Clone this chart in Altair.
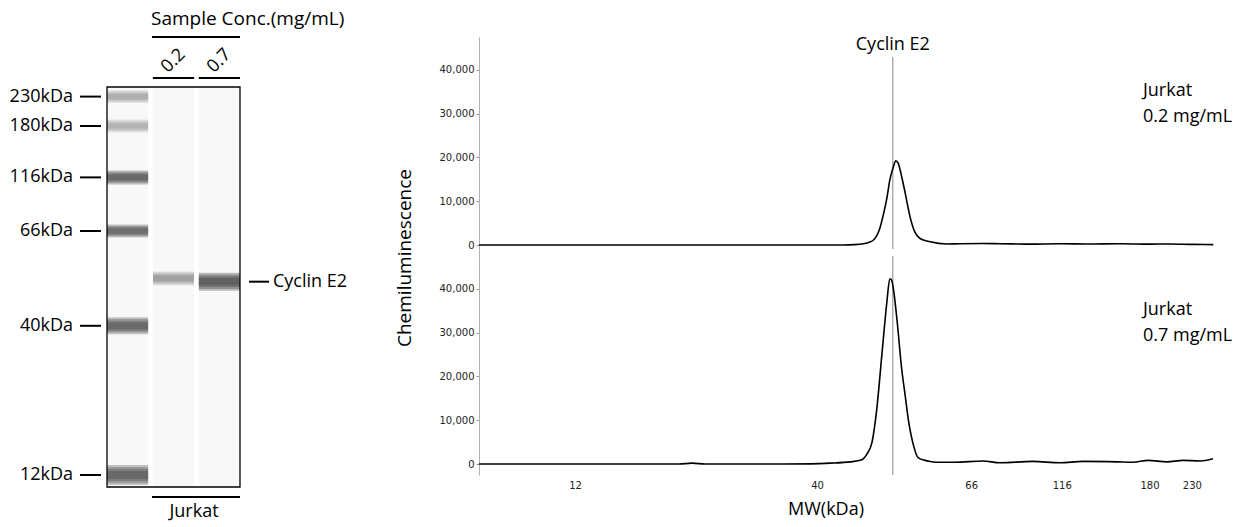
import altair as alt
import pandas as pd

# ---------------- data ----------------
# simulated blot: marker positions (kDa) and relative band darkness
ladder_kda = [230, 180, 116, 66, 40, 12]
ladder_intensity = [0.34, 0.31, 0.88, 0.86, 0.88, 0.90]
sample_lanes = ["0.2", "0.7"]
sample_band_kda = [53.0, 52.1]
sample_band_intensity = [0.42, 1.0]
target_name = "Cyclin E2"
cell_line = "Jurkat"
conc_title = "Sample Conc.(mg/mL)"

# migration calibration of the blot image (kDa -> fraction of lane length from top)
blot_cal_kda = [9.75, 12, 40, 66, 116, 180, 230, 246.6]
blot_cal_pos = [1.0, 0.970, 0.597, 0.360, 0.226, 0.0975, 0.024, 0.0]

# migration calibration of the electropherogram x axis (kDa -> fraction of axis)
ep_cal_kda = [1, 12, 40, 66, 116, 180, 230, 257]
ep_cal_pos = [0.0, 0.1311, 0.4599, 0.6694, 0.7925, 0.9117, 0.9692, 1.0]

x_ticks_kda = [12, 40, 66, 116, 180, 230]
y_ticks = [0, 10000, 20000, 30000, 40000]
peak_kda = 52.7

trace_02_kda = [1, 12, 26.4, 38.0, 44.3, 46.3, 47.7, 48.5, 49.4, 50.5, 51.1, 51.7,
                52.2, 52.8, 53.2, 53.6, 54.2, 54.8, 55.6, 56.4, 57.3, 59.0, 61.8,
                64.0, 72.0, 81.6, 98.2, 114.0, 136.0, 158.0, 180.0, 204.0, 230.0, 255.0]
trace_02_signal = [0, 0, 0, 0, 20, 100, 300, 550, 1100, 3800, 6900, 10700,
                   14900, 17900, 19250, 18700, 15600, 11800, 6500, 3000, 1500, 750, 250,
                   300, 350, 300, 200, 300, 250, 300, 200, 250, 150, 100]

trace_07_kda = [1, 12, 24.0, 25.5, 27.0, 36.0, 39.2, 42.1, 45.5, 47.5, 48.3, 49.2,
                50.0, 50.9, 51.7, 52.2, 52.5, 52.8, 53.4, 54.2, 54.8, 55.3, 56.2,
                57.0, 58.0, 59.0, 60.7, 63.2, 72.2, 81.6, 99.8, 114.7, 131.1,
                155.9, 167.6, 178.6, 200.1, 219.0, 239.2, 254.6]
trace_07_signal = [0, 0, 0, 200, 0, 0, 50, 200, 500, 1000, 2200, 5000,
                   12600, 25600, 37000, 42300, 42000, 40000, 33000, 21700, 15500, 10300, 4200,
                   1400, 900, 600, 400, 400, 700, 300, 600, 300, 600,
                   500, 400, 850, 500, 850, 700, 1200]

panel_lines = [["Jurkat", "0.2 mg/mL"], ["Jurkat", "0.7 mg/mL"]]

# ---------------- styles ----------------
FONT = "Open Sans"
TICK_FONT = "DejaVu Sans"
BLOT_W, BLOT_H = 133, 400
EP_W, EP_H = 736, 219
ladder_thickness = [13, 13, 14, 13, 17, 20]
sample_thickness = [14, 18]
blur_steps = [1.0, 0.8, 0.6, 0.4]


def calib_expr(field, kda, pos):
    expr = f"{pos[-2]} + (datum.{field} - {kda[-2]}) * {(pos[-1] - pos[-2]) / (kda[-1] - kda[-2])}"
    for i in reversed(range(len(kda) - 2)):
        seg = f"{pos[i]} + (datum.{field} - {kda[i]}) * {(pos[i + 1] - pos[i]) / (kda[i + 1] - kda[i])}"
        expr = f"datum.{field} < {kda[i + 1]} ? ({seg}) : ({expr})"
    return expr


BLOT_POS = calib_expr("kda", blot_cal_kda, blot_cal_pos)
EP_POS = calib_expr("kda", ep_cal_kda, ep_cal_pos)

lanes = ["ladder"] + sample_lanes
lane_scale = alt.Scale(domain=lanes, paddingInner=0.1, paddingOuter=0)
blot_y = alt.Y("pos:Q", scale=alt.Scale(domain=[1, 0], zero=False, nice=False), axis=None)
X_LANE = alt.X("lane:N", scale=lane_scale, axis=None)

bands = pd.DataFrame({
    "lane": ["ladder"] * len(ladder_kda) + sample_lanes,
    "kda": ladder_kda + sample_band_kda,
    "intensity": ladder_intensity + sample_band_intensity,
})
thick = ladder_thickness + sample_thickness
lane_df = pd.DataFrame({"lane": lanes})
sample_df = pd.DataFrame({"lane": sample_lanes})

bg = alt.Chart(lane_df).mark_rect(color="#f8f8f8").encode(
    x=X_LANE, y=alt.value(0), y2=alt.value(BLOT_H))

band_layers = []
for i in range(len(bands)):
    for f in blur_steps:
        band_layers.append(
            alt.Chart(bands.iloc[[i]]).transform_calculate(
                pos=BLOT_POS, op="datum.intensity * 0.33"
            ).mark_tick(thickness=thick[i] * f, size=41, color="#3c3c3c").encode(
                x=X_LANE, y=blot_y,
                opacity=alt.Opacity("op:Q", scale=None),
            ))

one = pd.DataFrame({"t": [conc_title]})
frame = alt.Chart(one).mark_rect(filled=False, stroke="black", strokeWidth=1.3).encode(
    x=alt.value(0), x2=alt.value(BLOT_W), y=alt.value(0), y2=alt.value(BLOT_H))

marker_df = pd.DataFrame({"kda": ladder_kda})
marker_ticks = alt.Chart(marker_df).transform_calculate(pos=BLOT_POS).mark_rule(
    color="black", strokeWidth=2).encode(x=alt.value(-27), x2=alt.value(-6), y=blot_y)
marker_text = alt.Chart(marker_df).transform_calculate(
    pos=BLOT_POS, lab="datum.kda + 'kDa'").mark_text(
    align="right", baseline="middle", font=FONT, fontSize=18, color="black").encode(
    x=alt.value(-34), y=blot_y, text="lab:N")

target_df = pd.DataFrame({"kda": [sample_band_kda[1]], "name": [target_name]})
target_rule = alt.Chart(target_df).transform_calculate(pos=BLOT_POS).mark_rule(
    color="black", strokeWidth=2).encode(x=alt.value(BLOT_W + 9), x2=alt.value(BLOT_W + 29), y=blot_y)
target_text = alt.Chart(target_df).transform_calculate(pos=BLOT_POS).mark_text(
    align="left", baseline="middle", font=FONT, fontSize=18, color="black").encode(
    x=alt.value(BLOT_W + 33), y=blot_y, text="name:N")

conc_text = alt.Chart(one).mark_text(align="left", baseline="middle", font=FONT, fontSize=19, color="black").encode(
    x=alt.value(44), y=alt.value(-68), text="t:N")
conc_rule = alt.Chart(one).mark_rule(color="black", strokeWidth=2).encode(
    x=alt.value(45), x2=alt.value(BLOT_W), y=alt.value(-50))
lane_text = alt.Chart(sample_df).mark_text(angle=315, font=FONT, fontSize=18, color="black").encode(
    x=X_LANE, y=alt.value(-26), text="lane:N")
lane_rule = alt.Chart(sample_df).mark_rect(color="black").encode(
    x=X_LANE, y=alt.value(-10), y2=alt.value(-8))
cell_df = pd.DataFrame({"t": [cell_line]})
cell_rule = alt.Chart(cell_df).mark_rule(color="black", strokeWidth=2).encode(
    x=alt.value(45), x2=alt.value(BLOT_W), y=alt.value(410))
cell_text = alt.Chart(cell_df).mark_text(font=FONT, fontSize=18, color="black", baseline="middle").encode(
    x=alt.value(87), y=alt.value(425), text="t:N")

blot = alt.layer(bg, *band_layers, frame, marker_ticks, marker_text, target_rule, target_text,
                 conc_text, conc_rule, lane_text, lane_rule, cell_rule, cell_text).properties(
    width=BLOT_W, height=BLOT_H)

spacer = alt.Chart(pd.DataFrame({"a": [0]})).mark_point(opacity=0).encode(
    x=alt.value(0), y=alt.value(0)).properties(width=BLOT_W, height=50)

left = alt.vconcat(spacer, blot, spacing=0, bounds="flush")

# ---------------- electropherograms ----------------
x_ep = alt.Scale(domain=[0, 1], zero=False, nice=False)
y_ep = alt.Scale(domain=[-2500, 47500], zero=False, nice=False)
y_axis = alt.Axis(values=y_ticks, format=",d", labelFont=TICK_FONT, labelFontSize=10,
                  labelColor="#222", tickSize=3, tickColor="#999", domainColor="#b0b0b0",
                  labelPadding=2, grid=False, title=None)
x_axis = alt.Axis(labels=False, ticks=False, domainColor="#b0b0b0", grid=False, title=None)

peak_df = pd.DataFrame({"kda": [peak_kda], "name": [target_name]})
xtick_df = pd.DataFrame({"kda": x_ticks_kda})


def panel(kda, signal, lines, bottom):
    df = pd.DataFrame({"kda": kda, "signal": signal})
    line = alt.Chart(df).transform_calculate(pos=EP_POS).mark_line(
        color="black", strokeWidth=1.6, interpolate="monotone").encode(
        x=alt.X("pos:Q", scale=x_ep, axis=x_axis if bottom else None),
        y=alt.Y("signal:Q", scale=y_ep, axis=y_axis))
    rule = alt.Chart(peak_df).transform_calculate(pos=EP_POS).mark_rule(color="#888", strokeWidth=1).encode(
        x=alt.X("pos:Q", scale=x_ep, axis=None),
        y=alt.value(0 if bottom else 20), y2=alt.value(EP_H if bottom else 212))
    lab_df = pd.DataFrame({"t": lines, "row": list(range(len(lines)))})
    lab = alt.Chart(lab_df).transform_calculate(yy="54 + datum.row * 26").mark_text(
        align="left", baseline="middle", font=FONT, fontSize=18, color="black").encode(
        x=alt.value(664), y=alt.Y("yy:Q", scale=None), text="t:N")
    layers = [rule, line, lab]
    if not bottom:
        layers.append(alt.Chart(peak_df).transform_calculate(pos=EP_POS).mark_text(
            font=FONT, fontSize=18, color="black", baseline="middle").encode(
            x=alt.X("pos:Q", scale=x_ep, axis=None), y=alt.value(8), text="name:N"))
        layers.append(alt.Chart(pd.DataFrame({"t": ["Chemiluminescence"]})).mark_text(
            font=FONT, fontSize=19, color="black", angle=270, baseline="middle").encode(
            x=alt.value(-74), y=alt.value(221), text="t:N"))
    else:
        layers.append(alt.Chart(xtick_df).transform_calculate(pos=EP_POS).mark_text(
            font=TICK_FONT, fontSize=10, color="#222", baseline="middle").encode(
            x=alt.X("pos:Q", scale=x_ep, axis=None), y=alt.value(EP_H + 11), text="kda:N"))
        layers.append(alt.Chart(pd.DataFrame({"t": ["MW(kDa)"]})).mark_text(
            font=FONT, fontSize=18, color="black", baseline="middle").encode(
            x=alt.value(347), y=alt.value(254), text="t:N"))
    return alt.layer(*layers).properties(width=EP_W, height=EP_H)


top = panel(trace_02_kda, trace_02_signal, panel_lines[0], False)
bottom = panel(trace_07_kda, trace_07_signal, panel_lines[1], True)
right = alt.vconcat(top, bottom, spacing=0, bounds="flush")

# with flush bounds the nested left column contributes no width, so the
# spacing is measured from the blot's left edge
chart = alt.hconcat(left, right, spacing=BLOT_W + 239, bounds="flush").properties(
    padding={"left": 1, "top": 2, "right": 5, "bottom": 5},
    background="white",
).configure_view(stroke=None)

chart.save("out.html", embed_options={"renderer": "svg", "actions": False})
